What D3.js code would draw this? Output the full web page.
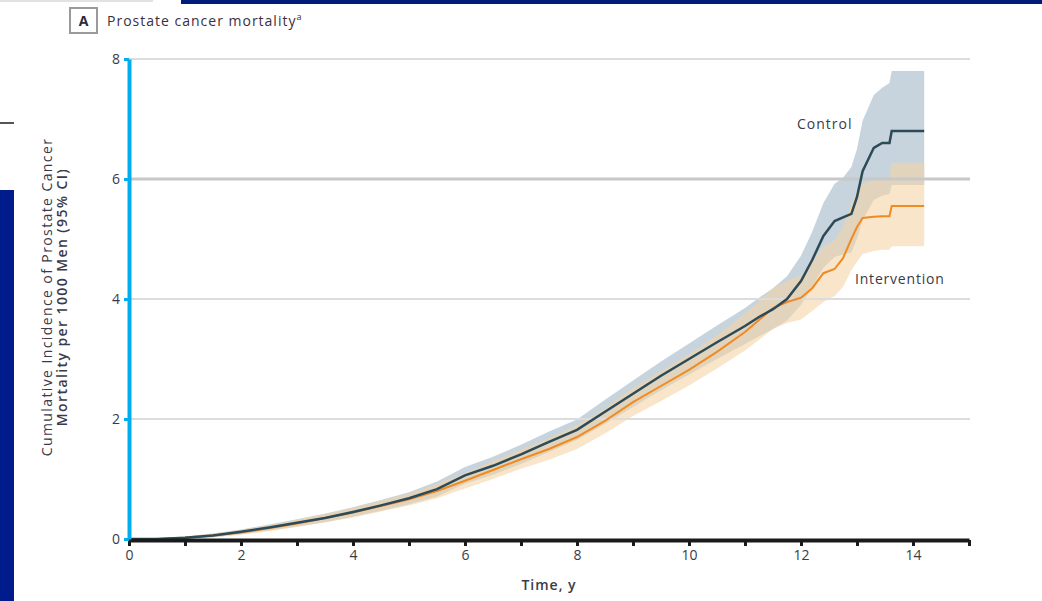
<!DOCTYPE html>
<html>
<head>
<meta charset="utf-8">
<script src="https://cdn.jsdelivr.net/npm/d3@7/dist/d3.min.js"></script>
<style>
  body { margin: 0; background: #fff; }
  svg { display: block; font-family: "Open Sans", "DejaVu Sans", sans-serif; }
</style>
</head>
<body>
<div id="chart"></div>
<script>
// time points (years)
var times = [0, 0.5, 1, 1.5, 2, 2.5, 3, 3.5, 4, 4.5, 5, 5.5, 6, 6.5, 7, 7.5, 8, 8.5, 9, 9.5,
	10, 10.5, 11, 11.25, 11.5, 11.75, 12, 12.2, 12.4, 12.6, 12.75, 12.9, 13.0, 13.1, 13.3, 13.45, 13.58, 13.62, 14.2];

// cumulative incidence per 1000 men
var control = [0, 0, 0.02, 0.06, 0.12, 0.19, 0.27, 0.35, 0.45, 0.56, 0.68, 0.83, 1.06, 1.22, 1.41, 1.62, 1.82, 2.12, 2.42, 2.72,
	3.0, 3.28, 3.55, 3.7, 3.83, 4.0, 4.3, 4.65, 5.05, 5.3, 5.36, 5.42, 5.7, 6.13, 6.52, 6.6, 6.6, 6.8, 6.8];
var controlHi = [0, 0.01, 0.04, 0.09, 0.16, 0.24, 0.33, 0.42, 0.53, 0.65, 0.78, 0.96, 1.2, 1.37, 1.57, 1.79, 1.99, 2.32, 2.64, 2.96,
	3.26, 3.56, 3.85, 4.02, 4.18, 4.38, 4.72, 5.12, 5.6, 5.92, 6.02, 6.2, 6.5, 6.97, 7.4, 7.52, 7.6, 7.8, 7.8];
var controlLo = [0, 0, 0.01, 0.03, 0.08, 0.14, 0.21, 0.28, 0.37, 0.47, 0.58, 0.71, 0.92, 1.07, 1.25, 1.45, 1.65, 1.92, 2.2, 2.48,
	2.74, 3.0, 3.25, 3.38, 3.5, 3.64, 3.9, 4.2, 4.52, 4.7, 4.74, 4.78, 5.0, 5.32, 5.65, 5.72, 5.75, 5.9, 5.9];

var intervention = [0, 0, 0.02, 0.06, 0.11, 0.18, 0.26, 0.35, 0.44, 0.55, 0.66, 0.8, 0.97, 1.15, 1.33, 1.5, 1.7, 1.97, 2.28, 2.55,
	2.82, 3.12, 3.45, 3.65, 3.85, 3.95, 4.02, 4.18, 4.43, 4.5, 4.68, 5.0, 5.2, 5.35, 5.37, 5.38, 5.38, 5.55, 5.55];
var interventionHi = [0, 0.01, 0.04, 0.09, 0.15, 0.23, 0.32, 0.42, 0.52, 0.64, 0.76, 0.92, 1.1, 1.3, 1.49, 1.68, 1.9, 2.18, 2.52, 2.8,
	3.08, 3.4, 3.76, 3.96, 4.18, 4.3, 4.4, 4.62, 4.88, 4.98, 5.2, 5.6, 5.8, 5.92, 5.98, 6.0, 6.0, 6.27, 6.27];
var interventionLo = [0, 0, 0.01, 0.03, 0.07, 0.13, 0.2, 0.28, 0.36, 0.46, 0.56, 0.68, 0.84, 1.0, 1.17, 1.32, 1.5, 1.76, 2.05, 2.3,
	2.56, 2.84, 3.14, 3.32, 3.5, 3.6, 3.66, 3.8, 3.95, 4.05, 4.2, 4.48, 4.62, 4.75, 4.8, 4.82, 4.82, 4.88, 4.88];

var xTicks = [0, 1, 2, 3, 4, 5, 6, 7, 8, 9, 10, 11, 12, 13, 14, 15];
var xLabels = [0, 2, 4, 6, 8, 10, 12, 14];
var yTicks = [0, 2, 4, 6, 8];

var width = 1042,
	height = 601;

var textColor = '#3a3a4a';

var xScale = d3.scaleLinear()
				.domain([0, 15])
				.range([129, 969]);

var yScale = d3.scaleLinear()
				.domain([0, 8])
				.range([539, 59]);

var svg = d3.select('#chart').append('svg')
			.attr('width', width)
			.attr('height', height);

// page decorations around the figure
svg.append('rect').attr('x', 181).attr('y', 0).attr('width', 861).attr('height', 4).attr('fill', '#001c78');
svg.append('rect').attr('x', 0).attr('y', 190).attr('width', 14).attr('height', 411).attr('fill', '#001c8c');
svg.append('rect').attr('x', 0).attr('y', 0).attr('width', 153).attr('height', 2).attr('fill', '#e2e2e2');
svg.append('rect').attr('x', 0).attr('y', 122).attr('width', 14).attr('height', 2).attr('fill', '#555');

// panel title
svg.append('rect')
	.attr('x', 70).attr('y', 8)
	.attr('width', 27).attr('height', 25)
	.attr('fill', '#fff')
	.attr('stroke', '#9a9a9a')
	.attr('stroke-width', 2);

svg.append('text')
	.attr('x', 83.5).attr('y', 26)
	.attr('text-anchor', 'middle')
	.attr('font-size', 14)
	.attr('font-weight', 'bold')
	.attr('fill', '#2a2a3a')
	.text('A');

var title = svg.append('text')
	.attr('x', 107).attr('y', 26)
	.attr('font-size', 14)
	.attr('letter-spacing', 1)
	.attr('fill', '#3a3040');
title.append('tspan').text('Prostate cancer mortality');
title.append('tspan').attr('font-size', 9).attr('dy', -6).text('a');

var data = times.map(function(t, i) {
	return {
		t: t,
		c: control[i], cLo: controlLo[i], cHi: controlHi[i],
		n: intervention[i], nLo: interventionLo[i], nHi: interventionHi[i]
	};
});

function band(lo, hi) {
	return d3.area()
		.x(function(d) { return xScale(d.t); })
		.y0(function(d) { return yScale(d[lo]); })
		.y1(function(d) { return yScale(d[hi]); });
}

function line(key) {
	return d3.line()
		.x(function(d) { return xScale(d.t); })
		.y(function(d) { return yScale(d[key]); });
}

// confidence bands
svg.append('path')
	.datum(data)
	.attr('d', band('cLo', 'cHi'))
	.attr('fill', '#b9c9d4')
	.attr('opacity', 0.8);

svg.append('path')
	.datum(data)
	.attr('d', band('nLo', 'nHi'))
	.attr('fill', '#f3d3a6')
	.attr('opacity', 0.6);

// gridlines
svg.selectAll('.grid').data(yTicks.slice(1)).enter()
	.append('line')
		.attr('class', 'grid')
		.attr('x1', 129)
		.attr('x2', 970)
		.attr('y1', function(d) { return yScale(d); })
		.attr('y2', function(d) { return yScale(d); })
		.attr('stroke', function(d) { return d == 6 ? '#c8c8c8' : '#dcdcdc'; })
		.attr('stroke-width', function(d) { return d == 6 ? 3 : 2; });

// estimate lines
svg.append('path')
	.datum(data)
	.attr('d', line('n'))
	.attr('fill', 'none')
	.attr('stroke', '#f08a22')
	.attr('stroke-width', 2);

svg.append('path')
	.datum(data)
	.attr('d', line('c'))
	.attr('fill', 'none')
	.attr('stroke', '#2c4a58')
	.attr('stroke-width', 2.5);

// x axis
var xAxis = d3.axisBottom(xScale)
				.tickValues(xTicks)
				.tickSizeInner(6)
				.tickSizeOuter(0)
				.tickPadding(4)
				.tickFormat(function(d) { return xLabels.indexOf(d) >= 0 ? d : ''; });

var gx = svg.append('g')
	.attr('transform', 'translate(0,' + 540 + ')')
	.call(xAxis);

gx.select('.domain').attr('stroke', '#1a1a1a').attr('stroke-width', 4);
gx.selectAll('.tick line').attr('stroke', '#1a1a1a').attr('stroke-width', 3);
gx.selectAll('.tick text')
	.attr('font-size', 14)
	.attr('font-family', '"Open Sans", sans-serif')
	.attr('fill', textColor);

// y axis
var yAxis = d3.axisLeft(yScale)
				.tickValues(yTicks)
				.tickSizeInner(5)
				.tickSizeOuter(0)
				.tickPadding(4);

var gy = svg.append('g')
	.attr('transform', 'translate(129,0)')
	.call(yAxis);

gy.select('.domain').attr('stroke', '#00aeef').attr('stroke-width', 4);
gy.selectAll('.tick line').attr('stroke', '#00aeef').attr('stroke-width', 3);
gy.selectAll('.tick text')
	.attr('font-size', 14)
	.attr('font-family', '"Open Sans", sans-serif')
	.attr('fill', textColor);

// axis titles
svg.append('text')
	.attr('x', 549).attr('y', 590)
	.attr('text-anchor', 'middle')
	.attr('font-size', 14)
	.attr('font-weight', 600)
	.attr('letter-spacing', 1)
	.attr('fill', textColor)
	.text('Time, y');

var yLabel = svg.append('text')
	.attr('transform', 'translate(52,297) rotate(-90)')
	.attr('text-anchor', 'middle')
	.attr('font-size', 14)
	.attr('letter-spacing', 1.4)
	.attr('fill', textColor);
yLabel.append('tspan').attr('x', 0).attr('y', 0).text('Cumulative Incidence of Prostate Cancer');
yLabel.append('tspan').attr('x', 0).attr('y', 15).attr('font-weight', 600).text('Mortality per 1000 Men (95% CI)');

// series labels
svg.append('text')
	.attr('x', 797).attr('y', 129)
	.attr('font-size', 14)
	.attr('letter-spacing', 1)
	.attr('fill', textColor)
	.text('Control');

svg.append('text')
	.attr('x', 855).attr('y', 284)
	.attr('font-size', 14)
	.attr('letter-spacing', 0.8)
	.attr('fill', textColor)
	.text('Intervention');
</script>
</body>
</html>
